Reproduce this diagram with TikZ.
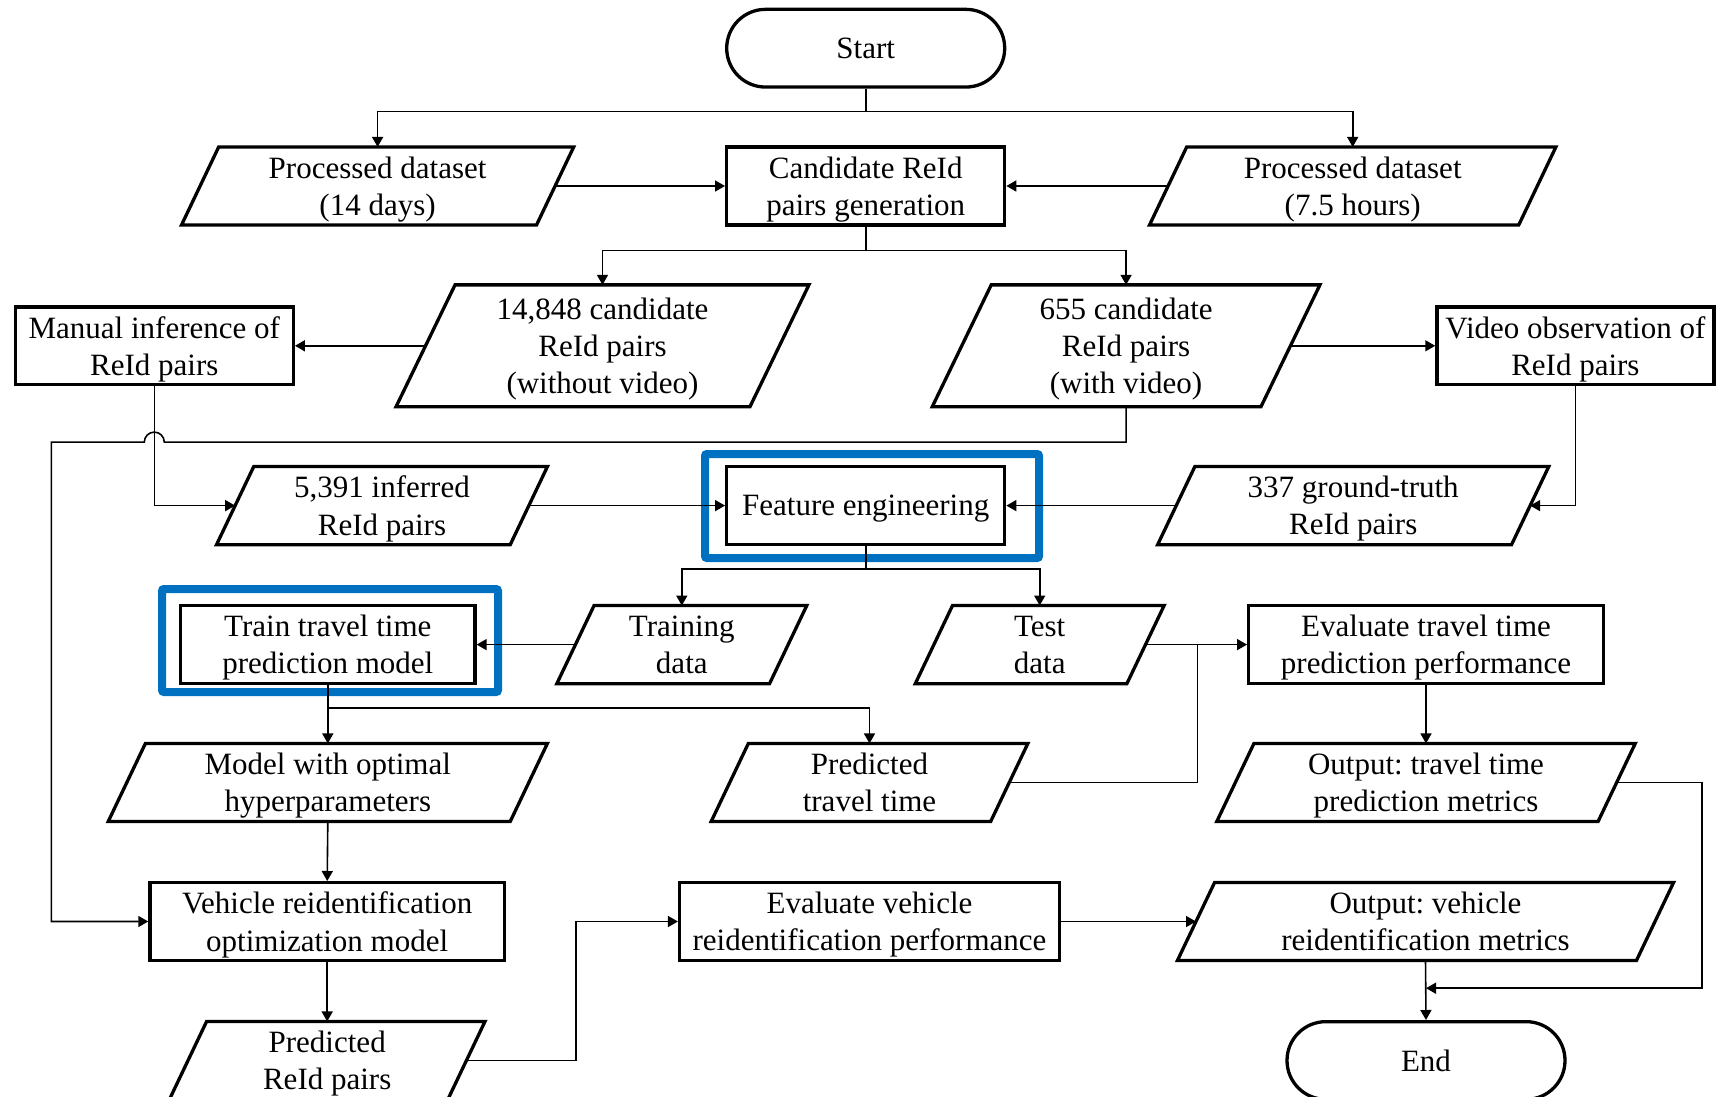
\documentclass[tikz,border=0pt]{standalone}
\usepackage{fontspec}
\setmainfont{Liberation Serif}
\usetikzlibrary{arrows.meta,calc}
\definecolor{hlblue}{RGB}{0,112,192}
\newcommand\iopath[2]{\draw[nodeline] ([xshift=#2]#1.north west) -- ([xshift=#2]#1.north east) -- ([xshift=-#2]#1.south east) -- ([xshift=-#2]#1.south west) -- cycle;}
\tikzset{
  nodeline/.style={line width=3.3pt, line join=miter},
  rbox/.style={draw, nodeline, inner sep=0pt, align=center, text depth=0pt, minimum height=77.7pt},
  io/.style={inner sep=0pt, align=center, text depth=0pt, minimum height=77.7pt},
  iotall/.style={inner sep=0pt, align=center, text depth=0pt, minimum height=121.5pt},
  term/.style={draw, nodeline, rounded corners=38.8pt, minimum width=278pt, minimum height=77.7pt, inner sep=0pt, text depth=0pt},
  conn/.style={line width=1.6pt},
  arr/.style={conn, -{Triangle[length=10pt,width=11pt]}},
  hl/.style={draw=hlblue, line width=8pt, rounded corners=2pt}
}
\frenchspacing
\begin{document}
\begin{tikzpicture}[x=1pt, y=-1pt, font=\fontsize{31}{37.2}\selectfont\frenchspacing]
\useasboundingbox (0,0) rectangle (1716,1097);
\fill[white] (0,0) rectangle (1716,1097);
\begin{scope}
\clip (0,0) rectangle (1716,1097);
% nodes
\node[term] (start) at (865.7,48.2) {Start};
\node[io, minimum width=354.6pt] (pd14) at (377.6,186) {Processed dataset\\(14 days)};
\node[rbox, minimum width=278pt] (cand) at (865.7,186) {Candidate ReId\\pairs generation};
\node[io, minimum width=368.8pt] (pd75) at (1352.7,186) {Processed dataset\\(7.5 hours)};
\node[iotall, minimum width=353.5pt] (c14848) at (602.5,345.8) {14,848 candidate\\ReId pairs\\(without video)};
\node[iotall, minimum width=328.3pt] (c655) at (1126.1,345.8) {655 candidate\\ReId pairs\\(with video)};
\node[rbox, minimum width=278pt] (manual) at (154.3,345.8) {Manual inference of\\ReId pairs};
\node[rbox, minimum width=277pt] (video) at (1575.4,345.8) {Video observation of\\ReId pairs};
\node[io, minimum width=293.3pt] (inf) at (382,505.6) {5,391 inferred\\ReId pairs};
\node[rbox, minimum width=278pt] (feat) at (865.7,505.6) {Feature engineering};
\node[io, minimum width=353.5pt] (gt) at (1353.2,505.6) {337 ground-truth\\ReId pairs};
\node[io, minimum width=212.3pt] (training) at (681.8,644.6) {Training\\data};
\node[rbox, minimum width=294.4pt] (train) at (327.8,644.6) {Train travel time\\prediction model};
\node[io, minimum width=211.2pt] (test) at (1039.7,644.6) {Test\\data};
\node[rbox, minimum width=354.6pt] (evtt) at (1426,644.6) {Evaluate travel time\\prediction performance};
\node[io, minimum width=401.6pt] (model) at (327.8,782.5) {Model with optimal\\hyperparameters};
\node[io, minimum width=279.1pt] (predTT) at (869.5,782.5) {Predicted\\travel time};
\node[io, minimum width=380.9pt] (outTT) at (1426,782.5) {Output: travel time\\prediction metrics};
\node[rbox, minimum width=354.6pt] (vehicle) at (327.2,921.5) {Vehicle reidentification\\optimization model};
\node[rbox, minimum width=379.8pt] (evv) at (869.5,921.5) {Evaluate vehicle\\reidentification performance};
\node[io, minimum width=458.6pt] (outV) at (1425.5,921.5) {Output: vehicle\\reidentification metrics};
\node[io, minimum width=278pt] (predR) at (327.2,1060.5) {Predicted\\ReId pairs};
\node[term] (end) at (1426,1060.5) {End};
% parallelogram outlines
\iopath{pd14}{18.6pt}
\iopath{pd75}{18.6pt}
\iopath{c14848}{29.5pt}
\iopath{c655}{29.5pt}
\iopath{inf}{18.6pt}
\iopath{gt}{18.6pt}
\iopath{training}{18.6pt}
\iopath{test}{18.6pt}
\iopath{model}{18.6pt}
\iopath{predTT}{18.6pt}
\iopath{outTT}{18.6pt}
\iopath{outV}{18.6pt}
\iopath{predR}{18.6pt}
% highlight frames
\draw[hl] (705,454) rectangle (1039,558);
\draw[hl] (162,589) rectangle (498,692);
% junction coordinates
\coordinate (s1) at (865.7,111.6);
\coordinate (c2) at (865.7,250.6);
\coordinate (f2) at (865.7,569.1);
\coordinate (t2) at (327.8,708.1);
\coordinate (h1) at (1126.1,442.1);
\coordinate (h2) at (164.3,442.1);
\coordinate (h3) at (51.4,442.1);
\coordinate (j1) at (1197.3,644.6);
\coordinate (p1) at (575.7,1060.5);
\coordinate (r1) at (1701.8,988.2);
% connectors
\draw[conn] (start.south) -- (s1);
\draw[arr] (s1) -| (pd14.north);
\draw[arr] (s1) -| (pd75.north);
\draw[arr] (pd14.east) -- (cand.west);
\draw[arr] (pd75.west) -- (cand.east);
\draw[conn] (cand.south) -- (c2);
\draw[arr] (c2) -| (c14848.north);
\draw[arr] (c2) -| (c655.north);
\draw[arr] (c14848.west) -- (manual.east);
\draw[arr] (c655.east) -- (video.west);
\draw[arr] (manual.south) |- (inf.west);
\draw[arr] (video.south) |- (gt.east);
\draw[arr] (c655.south) -- (h1) -- (h2) arc[start angle=0, end angle=180, radius=10pt] -- (h3) |- (vehicle.west);
\draw[arr] (inf.east) -- (feat.west);
\draw[arr] (gt.west) -- (feat.east);
\draw[conn] (feat.south) -- (f2);
\draw[arr] (f2) -| (training.north);
\draw[arr] (f2) -| (test.north);
\draw[arr] (training.west) -- (train.east);
\draw[arr] (test.east) -- (evtt.west);
\draw[conn] (predTT.east) -| (j1);
\draw[arr] (evtt.south) -- (outTT.north);
\draw[conn] (train.south) -- (t2);
\draw[arr] (t2) -- (model.north);
\draw[arr] (t2) -| (predTT.north);
\draw[arr] (model.south) -- (vehicle.north);
\draw[arr] (vehicle.south) -- (predR.north);
\draw[arr] (predR.east) -- (p1) |- (evv.west);
\draw[arr] (evv.east) -- (outV.west);
\draw[arr] (outV.south) -- (end.north);
\draw[arr] (outTT.east) -| (r1) -- (r1 -| end.north);
\end{scope}
\end{tikzpicture}
\end{document}
